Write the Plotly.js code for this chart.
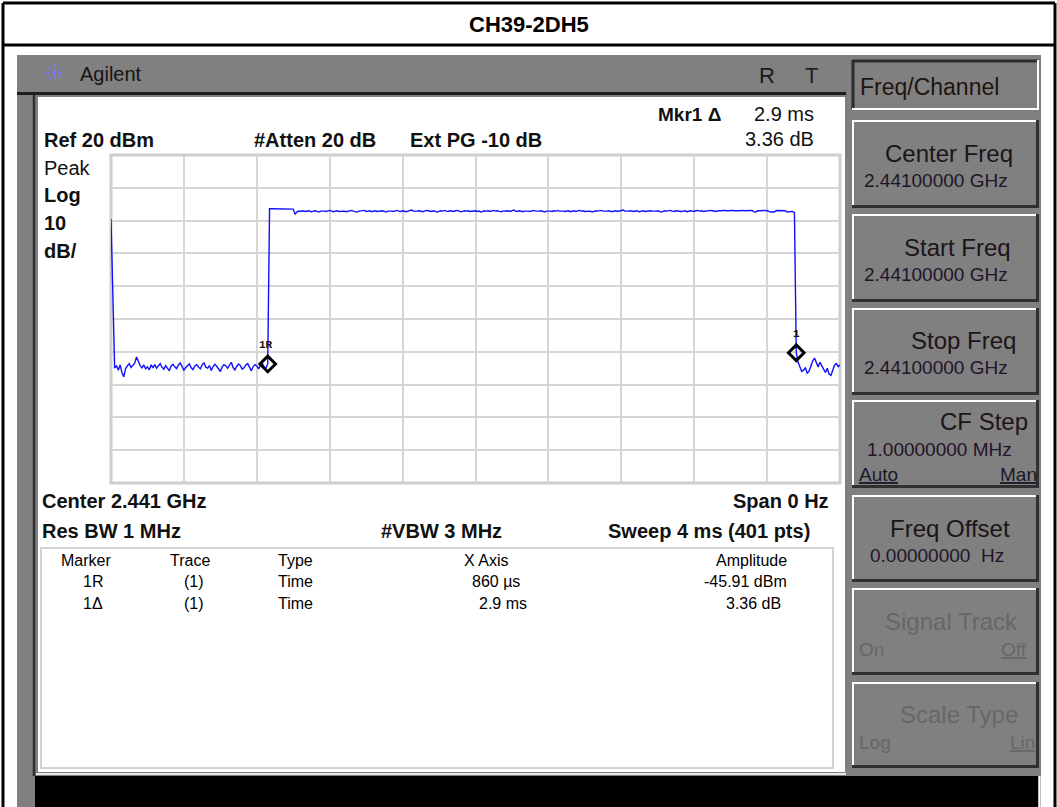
<!DOCTYPE html>
<html>
<head>
<meta charset="utf-8">
<script src="https://cdn.plot.ly/plotly-3.0.1.min.js"></script>
<style>html,body{margin:0;padding:0;background:#fff;}#chart{width:1057px;height:807px;}</style>
</head>
<body>
<div id="chart"></div>
<script>
// ---------------- DATA ----------------
const sweepMs = 4;            // Sweep 4 ms
const sweepPoints = 401;      // 401 pts
const refLevel = 20;          // Ref 20 dBm
const dbPerDiv = 10;          // 10 dB/
const divisions = 10;

// trace amplitude (dBm), in sweep order
const leadIn = [0.5, -22.7];
const noiseBefore = [
  -45.0,-44.2,-45.6,-44.0,-46.3,-47.6,-45.1,-44.3,-43.6,-44.8,
  -44.1,-43.5,-41.6,-43.0,-44.2,-44.9,-44.0,-45.2,-44.6,-45.5,
  -44.1,-44.8,-43.9,-45.0,-44.4,-43.6,-44.7,-45.3,-44.2,-44.9,
  -45.8,-44.3,-43.8,-44.6,-45.1,-44.0,-43.4,-44.5,-45.6,-44.8,
  -44.1,-43.7,-44.9,-45.4,-44.3,-43.9,-44.6,-45.2,-44.0,-43.3,
  -44.7,-45.0,-44.2,-45.7,-44.5,-43.8,-44.4,-45.1,-46.0,-44.6,
  -43.9,-44.3,-45.0,-44.1,-43.2,-44.8,-45.5,-44.4,-43.7,-44.2,
  -45.3,-44.9,-44.0,-43.6,-44.7,-45.8,-44.5,-43.9,-44.3,-45.2,
  -44.1,-43.5,-44.6,-45.0,
  -43.7
];
const burst = [
  3.6,3.6,3.6,3.6,3.6,3.6,3.6,3.6,3.5,3.5,
  3.6,3.6,3.6,3.5,1.9,2.7,2.9,2.8,3.0,2.9,
  2.8,3.0,2.9,2.7,2.9,3.0,2.8,2.6,2.9,3.0,
  2.9,2.8,3.0,3.1,2.9,2.7,2.9,3.0,2.8,2.9,
  3.0,2.9,2.7,2.8,3.0,3.1,2.9,2.8,2.6,2.9,
  3.0,2.9,3.1,2.8,2.9,3.0,2.7,2.9,3.0,2.8,
  2.9,3.1,3.0,2.8,2.6,2.9,3.0,2.9,2.8,3.0,
  3.1,2.9,2.8,3.0,2.9,2.7,2.9,3.0,3.2,2.9,
  2.8,2.9,3.0,2.8,2.7,2.9,3.1,3.0,2.9,2.8,
  3.0,2.9,2.6,2.8,3.0,2.9,3.1,2.9,2.8,3.0,
  2.9,2.8,3.0,3.1,2.9,2.7,2.8,3.0,2.9,3.0,
  2.8,2.9,3.1,3.0,2.8,2.9,2.6,2.9,3.0,2.9,
  3.0,2.8,2.9,3.1,2.9,3.0,2.8,2.7,2.9,3.0,
  2.9,3.0,2.8,2.9,3.2,2.9,2.8,3.0,2.9,2.7,
  2.9,3.0,2.9,2.8,3.0,3.1,2.9,2.8,2.9,3.0,
  2.8,2.6,2.9,3.0,2.9,2.8,3.0,2.9,3.1,2.9,
  3.0,2.9,2.8,2.9,3.0,2.7,2.9,3.0,2.8,2.9,
  3.1,2.9,3.0,2.8,2.9,3.0,2.9,2.6,2.8,3.0,
  2.9,3.0,3.1,2.9,2.8,2.9,3.0,2.9,2.7,2.9,
  3.0,2.8,2.9,3.0,3.2,2.9,2.8,2.9,3.0,2.9,
  2.8,3.0,2.9,2.7,2.9,3.0,2.8,2.9,3.1,3.0,
  2.9,2.8,2.9,3.0,2.9,2.6,2.8,3.0,2.9,3.0,
  3.1,2.9,2.8,3.0,2.9,3.0,2.8,2.9,3.0,2.7,
  2.9,3.0,2.9,2.8,3.0,3.1,2.9,3.0,2.8,2.9,
  3.0,2.9,3.1,3.0,2.9,2.8,3.0,2.9,3.0,3.1,
  3.0,3.1,3.0,3.1,3.0,3.1,3.0,3.0,3.1,3.0,
  3.1,3.0,3.1,3.0,3.1,3.0,2.6,2.7,3.0,3.0,
  3.1,3.0,3.1,3.0,2.7,2.6,2.7,2.6,3.1,3.1,
  3.0,3.0,3.1,3.0,2.6,2.7,2.6,2.8,2.4
];
const noiseAfter = [
  -40.3,
  -43.2,-44.9,-46.0,-45.6,-44.8,-46.5,-45.9,-44.4,-42.8,-41.9,
  -43.6,-44.6,-43.2,-44.4,-45.5,-46.3,-45.0,-46.8,-47.2,-45.3,
  -44.1,-43.6,-44.5,-44.0
];

// markers
const markerNames = ['1R', '1'];
const markerTimesMs = [0.86, 3.76];

// header / footer texts
const titleText = 'CH39-2DH5';
const tableHeader = ['Marker', 'Trace', 'Type', 'X Axis', 'Amplitude'];
const tableRow1 = ['1R', '(1)', 'Time', '860 µs', '-45.91 dBm'];
const tableRow2 = ['1Δ', '(1)', 'Time', '2.9 ms', '3.36 dB'];
const softkeys = [
  ['Center Freq', '2.44100000 GHz'],
  ['Start Freq', '2.44100000 GHz'],
  ['Stop Freq', '2.44100000 GHz'],
  ['CF Step', '1.00000000 MHz'],
  ['Freq Offset', '0.00000000\u00a0 Hz'],
  ['Signal Track', ''],
  ['Scale Type', '']
];

// ---------------- BUILD ----------------
const amplitude = [].concat(leadIn, noiseBefore, burst, noiseAfter);
const times = amplitude.map((_, i) => i * sweepMs / (sweepPoints - 1));
const markerAmps = markerTimesMs.map(t => amplitude[Math.round(t / sweepMs * (sweepPoints - 1))]);

// plot-area geometry (pixels)
const L = 111, T = 155, R = 840, B = 483;
const W = R - L, H = B - T;
const PX = x => (x - L) / W;
const PY = y => 1 - (y - T) / H;
const FONT = 'Liberation Sans, Arial, Helvetica, sans-serif';

const shapes = [];
function rect(x0, y0, x1, y1, fill, line, lw, layer) {
  shapes.push({type: 'rect', xref: 'paper', yref: 'paper', x0: PX(x0), x1: PX(x1), y0: PY(y1), y1: PY(y0),
    fillcolor: fill || 'rgba(0,0,0,0)', line: {color: line || 'rgba(0,0,0,0)', width: lw || 0}, layer: layer || 'below'});
}
function seg(x0, y0, x1, y1, color, w, layer, dash) {
  shapes.push({type: 'line', xref: 'paper', yref: 'paper', x0: PX(x0), x1: PX(x1), y0: PY(y0), y1: PY(y1),
    line: {color: color, width: w, dash: dash || 'solid'}, layer: layer || 'below'});
}
const ann = [];
function txt(x, y, text, size, o) {
  o = o || {};
  ann.push({xref: 'paper', yref: 'paper', x: PX(x), y: PY(y), text: text, showarrow: false,
    xanchor: o.anchor || 'left', yanchor: 'middle',
    font: {family: o.family || FONT, size: size, color: o.color || '#111'}});
}

// outer frame + title row
seg(3, 3, 1055, 3, '#000', 3);
seg(3, 3, 3, 807, '#000', 3);
seg(1055, 3, 1055, 807, '#000', 3);
seg(3, 45, 1055, 45, '#000', 3);
txt(529, 25, '<b>' + titleText + '</b>', 22, {anchor: 'center', color: '#000'});

// instrument panel
rect(17, 55, 1041, 807, '#808080');
seg(17, 93.5, 846, 93.5, '#1e1e1e', 3);
seg(34, 95, 34, 776, '#2e2e2e', 2.5);
rect(38, 97, 845, 772, '#ffffff');
rect(41, 548, 833, 768, null, '#d2d2d2', 2);
seg(36, 774, 846, 774, '#e8e8e8', 2);
rect(35, 776, 1038, 807, '#000000');
seg(1039.5, 776, 1039.5, 807, '#ffffff', 2);

// header bar: Agilent spark logo (dotted rays) + text
const sc = [55, 73], sr = 9;
[[1, 0], [0, 1], [0.707, 0.707], [0.707, -0.707]].forEach(d => {
  seg(sc[0] - d[0] * sr, sc[1] - d[1] * sr, sc[0] + d[0] * sr, sc[1] + d[1] * sr, '#7a7aff', 1.6, 'below', 'dot');
});
txt(78, 74, 'Agilent', 20, {color: '#151515'});
txt(767, 75, 'R', 22, {anchor: 'center', color: '#1a1a1a'});
txt(811, 75, 'T', 22, {anchor: 'center', color: '#2a1a2a'});

// screen annotations
txt(656, 114, '<b>Mkr1 Δ</b>', 19);
txt(816, 114, '2.9 ms', 20, {anchor: 'right'});
txt(816, 139, '3.36 dB', 20, {anchor: 'right'});
txt(42, 140, '<b>Ref 20 dBm</b>', 20);
txt(252, 140, '<b>#Atten 20 dB</b>', 20);
txt(408, 140, '<b>Ext PG -10 dB</b>', 20);
txt(42, 168, 'Peak', 20);
txt(42, 195, '<b>Log</b>', 20);
txt(42, 223, '<b>10</b>', 20);
txt(42, 251, '<b>dB/</b>', 20);
txt(40, 501, '<b>Center 2.441 GHz</b>', 20);
txt(831, 501, '<b>Span 0 Hz</b>', 20, {anchor: 'right'});
txt(40, 531, '<b>Res BW 1 MHz</b>', 20);
txt(379, 531, '<b>#VBW 3 MHz</b>', 20);
txt(812, 531, '<b>Sweep 4 ms (401 pts)</b>', 20, {anchor: 'right'});

// marker table
const TS = 16;
const colX = [[86, 'center'], [190, 'center'], [276, 'left'], [486, 'center'], [751, 'center']];
tableHeader.forEach((s, i) => txt(colX[i][0], 560, s, TS, {anchor: colX[i][1], color: '#000'}));
const rowX = [[93, 'center'], [194, 'center'], [276, 'left'], [470, 'left'], [789, 'right']];
const rowX2 = [[93, 'center'], [194, 'center'], [276, 'left'], [477, 'left'], [783, 'right']];
tableRow1.forEach((s, i) => txt(rowX[i][0], 581, s, TS, {anchor: rowX[i][1], color: '#000'}));
tableRow2.forEach((s, i) => txt(rowX2[i][0], 603, s, TS, {anchor: rowX2[i][1], color: '#000'}));

// softkey panel
function insetBox(x0, y0, x1, y1) {
  rect(x0, y0, x1, y1, '#808080');
  seg(x0, y0 + 1, x1, y0 + 1, '#2c2c2c', 3);
  seg(x0 + 1, y0, x0 + 1, y1, '#2c2c2c', 3);
  seg(x0, y1 - 1, x1, y1 - 1, '#ffffff', 2);
  seg(x1 - 1, y0, x1 - 1, y1, '#ffffff', 2);
}
function button(x0, y0, x1, y1) {
  rect(x0, y0, x1, y1, '#808080');
  seg(x0, y0 + 1, x1, y0 + 1, '#ffffff', 2);
  seg(x0 + 1, y0, x0 + 1, y1, '#ffffff', 2);
  seg(x0, y1 - 1.5, x1, y1 - 1.5, '#303030', 3);
  seg(x1 - 1.5, y0, x1 - 1.5, y1, '#303030', 3);
}
insetBox(852, 60, 1039, 110);
txt(858, 87, 'Freq/Channel', 23, {color: '#1e1410'});
const btnY = [[120, 208], [214, 302], [308, 395], [400, 488], [495, 582], [588, 675], [682, 768]];
const labelRight = [1015, 1013, 1018, 1030, 1012, 1020, 1020];
const labelY = [153, 247, 340, 421, 528, 621, 714];
btnY.forEach((b, i) => {
  button(852, b[0], 1039, b[1]);
  const dis = i >= 5;
  const col = dis ? '#676767' : '#1c1418';
  txt(labelRight[i], labelY[i], softkeys[i][0], 24, {anchor: 'right', color: col});
  if (softkeys[i][1]) {
    const vx = i === 3 ? 865 : (i === 4 ? 868 : 862);
    txt(vx, labelY[i] + (i === 3 ? 28 : 27), softkeys[i][1], 19, {color: '#221428'});
  }
});
const U = s => '<span style="text-decoration:underline">' + s + '</span>';
txt(857, 474, U('Auto'), 19, {color: '#1a1a2a'});
txt(1039, 474, U('Man'), 19, {anchor: 'right', color: '#1a1a2a'});
txt(857, 649, 'On', 19, {color: '#676767'});
txt(1029, 649, U('Off'), 19, {anchor: 'right', color: '#676767'});
txt(857, 742, 'Log', 19, {color: '#676767'});
txt(1037, 742, U('Lin'), 19, {anchor: 'right', color: '#676767'});

// graticule border
shapes.push({type: 'rect', xref: 'paper', yref: 'paper', x0: 0, x1: 1, y0: 0, y1: 1,
  line: {color: '#cecece', width: 3}, fillcolor: 'rgba(0,0,0,0)', layer: 'below'});

// marker labels
markerNames.forEach((n, i) => {
  ann.push({xref: 'x', yref: 'y', x: markerTimesMs[i], y: markerAmps[i], text: '<b>' + n + '</b>',
    showarrow: false, xanchor: 'center', yanchor: 'middle', yshift: 19, xshift: i === 0 ? -2 : 0,
    font: {family: 'Liberation Mono, DejaVu Sans Mono, monospace', size: 11, color: '#111'}});
});

const traces = [
  {x: times, y: amplitude, type: 'scatter', mode: 'lines', line: {color: '#1010ff', width: 1.4},
   hoverinfo: 'skip', cliponaxis: false},
  {x: markerTimesMs, y: markerAmps, type: 'scatter', mode: 'markers', hoverinfo: 'skip', cliponaxis: false,
   marker: {symbol: 'diamond-open', size: 12, color: '#000', line: {color: '#000', width: 3}}}
];

const layout = {
  width: 1057, height: 807,
  margin: {l: L, r: 1057 - R, t: T, b: 807 - B, pad: 0},
  paper_bgcolor: '#ffffff', plot_bgcolor: '#ffffff',
  showlegend: false,
  xaxis: {range: [0, sweepMs], tick0: 0, dtick: sweepMs / divisions, showticklabels: false, ticks: '',
    showgrid: true, gridcolor: '#d6d6d6', gridwidth: 2, zeroline: false, showline: false, fixedrange: true},
  yaxis: {range: [refLevel - dbPerDiv * divisions, refLevel], tick0: refLevel, dtick: dbPerDiv,
    showticklabels: false, ticks: '', showgrid: true, gridcolor: '#d6d6d6', gridwidth: 2,
    zeroline: false, showline: false, fixedrange: true},
  shapes: shapes,
  annotations: ann
};

Plotly.newPlot('chart', traces, layout, {displayModeBar: false, staticPlot: true});
</script>
</body>
</html>
